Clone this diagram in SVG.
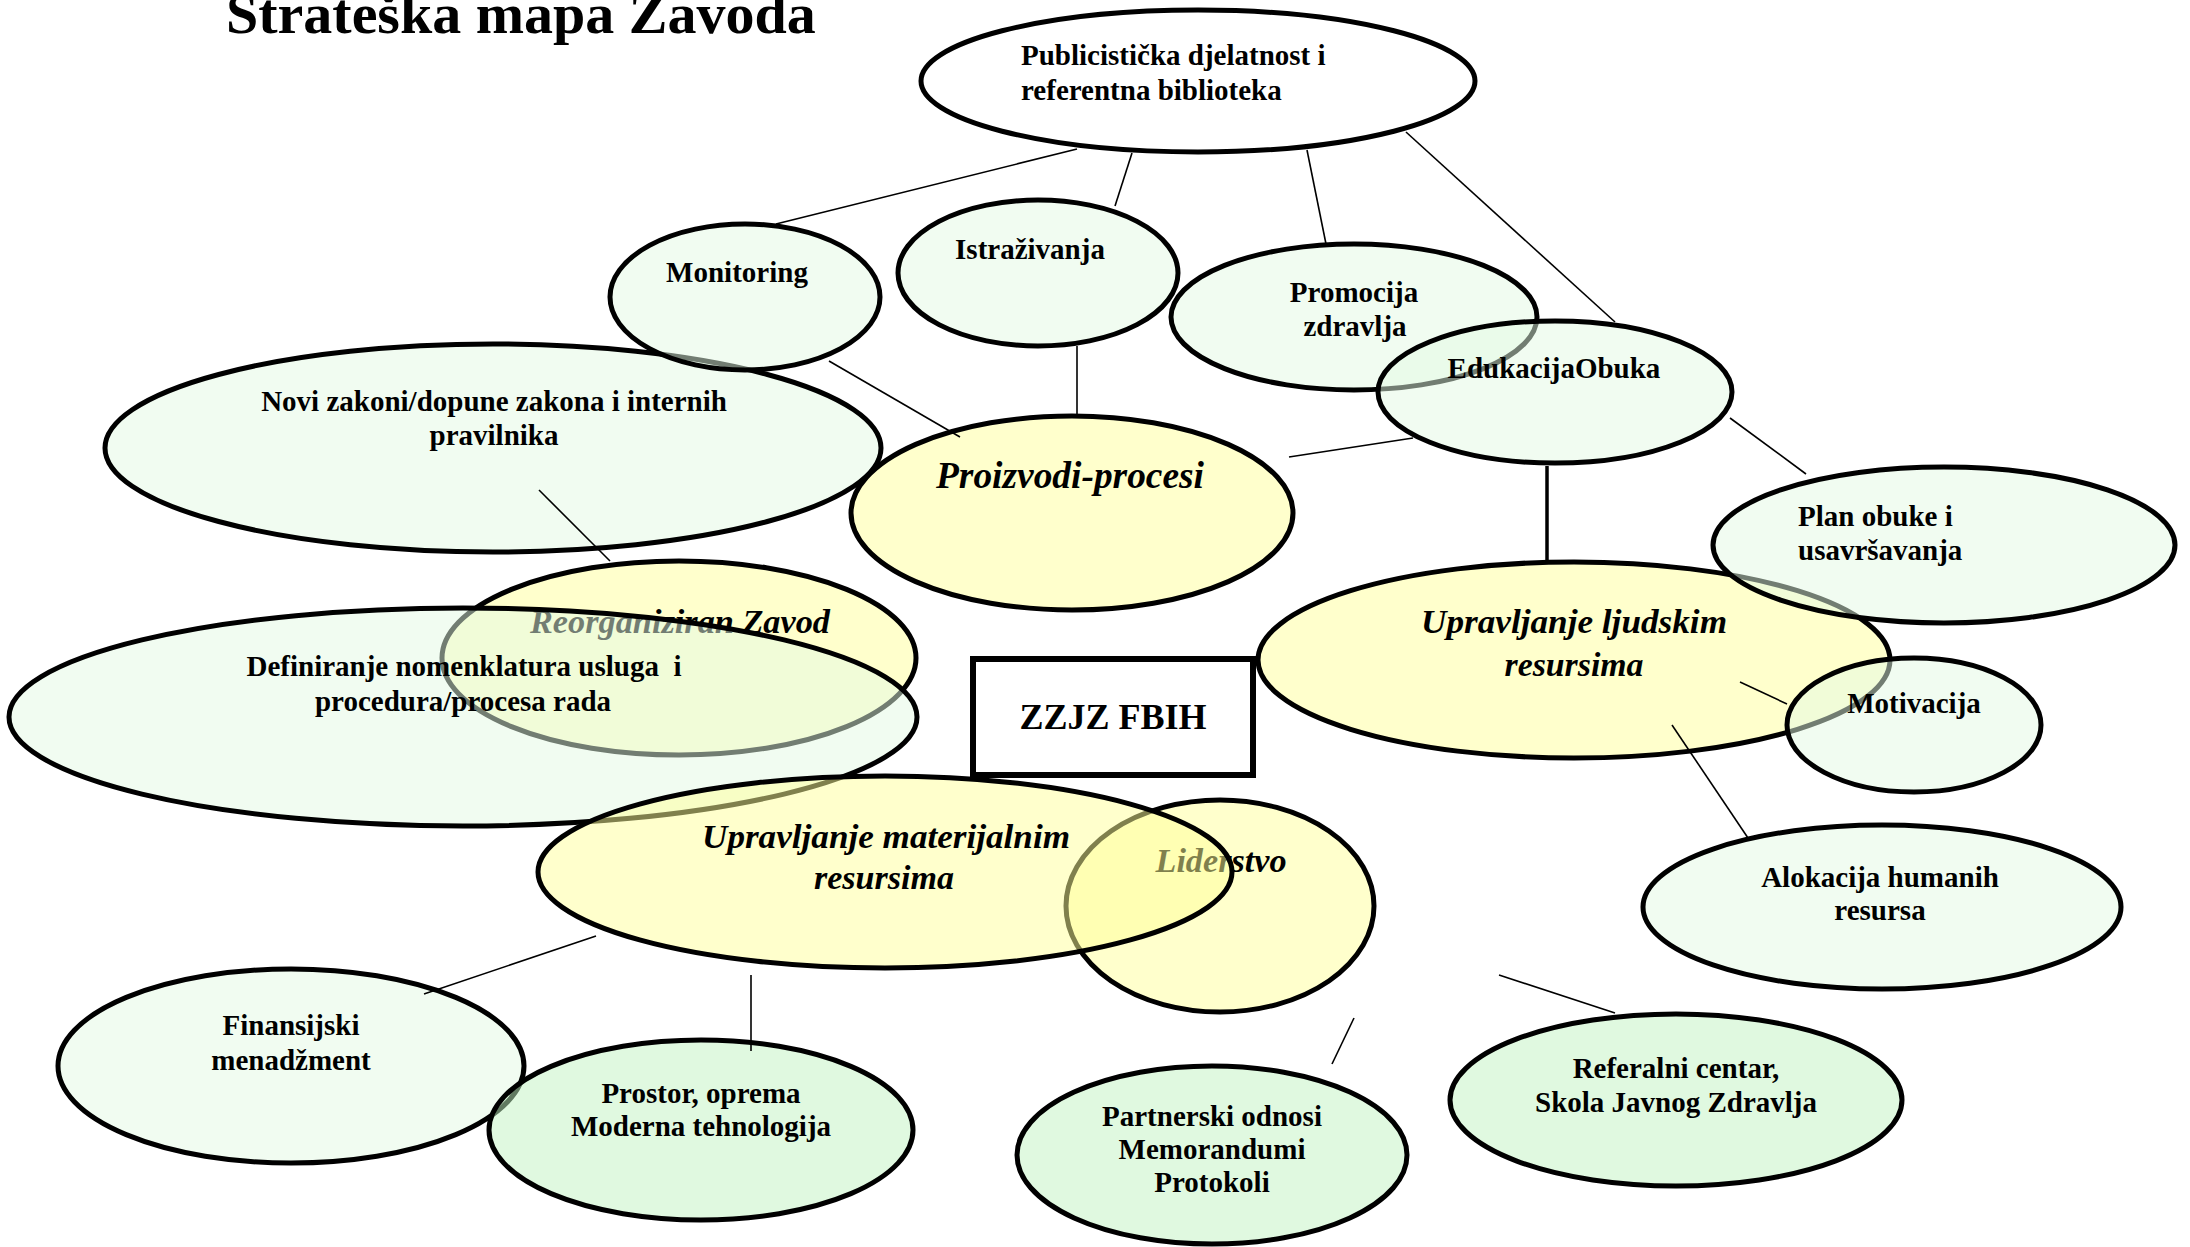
<svg xmlns="http://www.w3.org/2000/svg" width="2190" height="1247" viewBox="0 0 2190 1247">
<style>
.e{stroke:#000;stroke-width:5}
.w{fill:#fff}
.g{fill:#E4F9E4;fill-opacity:.5}
.g2{fill:#C2F4C2;fill-opacity:.5}
.y{fill:#FFFF99;fill-opacity:.5}
.t{font-family:"Liberation Serif","Times New Roman",serif;font-weight:bold;font-size:29px;fill:#000}
.c{text-anchor:middle}
.i{font-family:"Liberation Serif","Times New Roman",serif;font-style:italic;font-weight:bold;font-size:34px;fill:#000;text-anchor:middle}
.ln{stroke:#000;stroke-width:1.6;fill:none}
</style>
<rect width="2190" height="1247" fill="#fff"/>
<text x="226" y="33" class="t" style="font-size:58px">Strateška mapa Zavoda</text>
<g id="publicisticka"><ellipse cx="1198" cy="81" rx="277" ry="71" class="e w"/><text class="t" x="1021" y="65">Publicistička djelatnost i</text><text class="t" x="1021" y="100">referentna biblioteka</text></g>
<g id="istrazivanja"><ellipse cx="1038" cy="273" rx="140" ry="73" class="e g"/><text class="t c" x="1030" y="259">Istraživanja</text></g>
<g id="promocija"><ellipse cx="1354" cy="317" rx="183" ry="73" class="e g"/><text class="t c" x="1354" y="302">Promocija</text><text class="t c" x="1355" y="336">zdravlja</text></g>
<g id="edukacija"><ellipse cx="1555" cy="392" rx="177" ry="71" class="e g"/><text class="t c" x="1554" y="378">EdukacijaObuka</text></g>
<g id="novizakoni"><ellipse cx="493" cy="448" rx="388" ry="104" class="e g"/><text class="t c" x="494" y="411">Novi zakoni/dopune zakona i internih</text><text class="t c" x="494" y="445">pravilnika</text></g>
<g id="monitoring"><ellipse cx="745" cy="297" rx="135" ry="73" class="e g"/><text class="t c" x="737" y="282">Monitoring</text></g>
<g id="proizvodi"><ellipse cx="1072" cy="513" rx="221" ry="97" class="e y"/><text class="i" x="1070" y="488" style="font-size:37px" textLength="268" lengthAdjust="spacingAndGlyphs">Proizvodi-procesi</text></g>
<g id="reorganiziran"><ellipse cx="679" cy="658" rx="237" ry="97" class="e y"/><text class="i" x="680" y="633" textLength="300" lengthAdjust="spacingAndGlyphs">Reorganiziran Zavod</text></g>
<g id="definiranje"><ellipse cx="463" cy="717" rx="454" ry="109" class="e g"/><text class="t c" x="464" y="676" xml:space="preserve">Definiranje nomenklatura usluga  i</text><text class="t c" x="463" y="711">procedura/procesa rada</text></g>
<g id="liderstvo"><ellipse cx="1220" cy="906" rx="154" ry="106" class="e y"/><text class="i" x="1221" y="872" textLength="131" lengthAdjust="spacingAndGlyphs">Liderstvo</text></g>
<g id="materijalni"><ellipse cx="885" cy="872" rx="347" ry="96" class="e y"/><text class="i" x="886" y="848" textLength="368" lengthAdjust="spacingAndGlyphs">Upravljanje materijalnim</text><text class="i" x="884" y="889" textLength="140" lengthAdjust="spacingAndGlyphs">resursima</text></g>
<g id="zzjz"><rect x="973" y="659" width="280" height="116" fill="#fff" stroke="#000" stroke-width="6"/><text class="t c" x="1113" y="729" style="font-size:36px">ZZJZ FBIH</text></g>
<g id="ljudski"><ellipse cx="1574" cy="660" rx="316" ry="98" class="e y"/><text class="i" x="1574" y="633" textLength="306" lengthAdjust="spacingAndGlyphs">Upravljanje ljudskim</text><text class="i" x="1574" y="676" textLength="139" lengthAdjust="spacingAndGlyphs">resursima</text></g>
<g id="planobuke"><ellipse cx="1944" cy="545" rx="231" ry="78" class="e g"/><text class="t" x="1798" y="526">Plan obuke i</text><text class="t" x="1798" y="560">usavršavanja</text></g>
<g id="motivacija"><ellipse cx="1914" cy="725" rx="127" ry="67" class="e g"/><text class="t c" x="1914" y="713">Motivacija</text></g>
<g id="alokacija"><ellipse cx="1882" cy="907" rx="239" ry="82" class="e g"/><text class="t c" x="1880" y="887">Alokacija humanih</text><text class="t c" x="1880" y="920">resursa</text></g>
<g id="finansijski"><ellipse cx="291" cy="1066" rx="233" ry="97" class="e g"/><text class="t c" x="291" y="1035">Finansijski</text><text class="t c" x="291" y="1070">menadžment</text></g>
<g id="prostor"><ellipse cx="701" cy="1130" rx="212" ry="90" class="e g2"/><text class="t c" x="701" y="1103">Prostor, oprema</text><text class="t c" x="701" y="1136">Moderna tehnologija</text></g>
<g id="partnerski"><ellipse cx="1212" cy="1155" rx="195" ry="89" class="e g2"/><text class="t c" x="1212" y="1126">Partnerski odnosi</text><text class="t c" x="1212" y="1159">Memorandumi</text><text class="t c" x="1212" y="1192">Protokoli</text></g>
<g id="referalni"><ellipse cx="1676" cy="1100" rx="226" ry="86" class="e g2"/><text class="t c" x="1676" y="1078">Referalni centar,</text><text class="t c" x="1676" y="1112">Skola Javnog Zdravlja</text></g>
<g id="connectors" class="ln">
<line x1="1077" y1="149" x2="776" y2="224"/>
<line x1="1132" y1="153" x2="1115" y2="206"/>
<line x1="1307" y1="150" x2="1326" y2="244"/>
<line x1="1406" y1="132" x2="1615" y2="322"/>
<line x1="829" y1="361" x2="960" y2="437"/>
<line x1="1077" y1="346" x2="1077" y2="415"/>
<line x1="1289" y1="457" x2="1413" y2="438"/>
<line x1="1547" y1="466" x2="1547" y2="561" style="stroke-width:3.5"/>
<line x1="1730" y1="418" x2="1806" y2="474"/>
<line x1="539" y1="490" x2="610" y2="561"/>
<line x1="1740" y1="682" x2="1787" y2="704"/>
<line x1="1672" y1="725" x2="1748" y2="838"/>
<line x1="596" y1="936" x2="424" y2="994"/>
<line x1="751" y1="975" x2="751" y2="1051"/>
<line x1="1354" y1="1018" x2="1332" y2="1064"/>
<line x1="1499" y1="975" x2="1615" y2="1013"/>
</g>
</svg>
